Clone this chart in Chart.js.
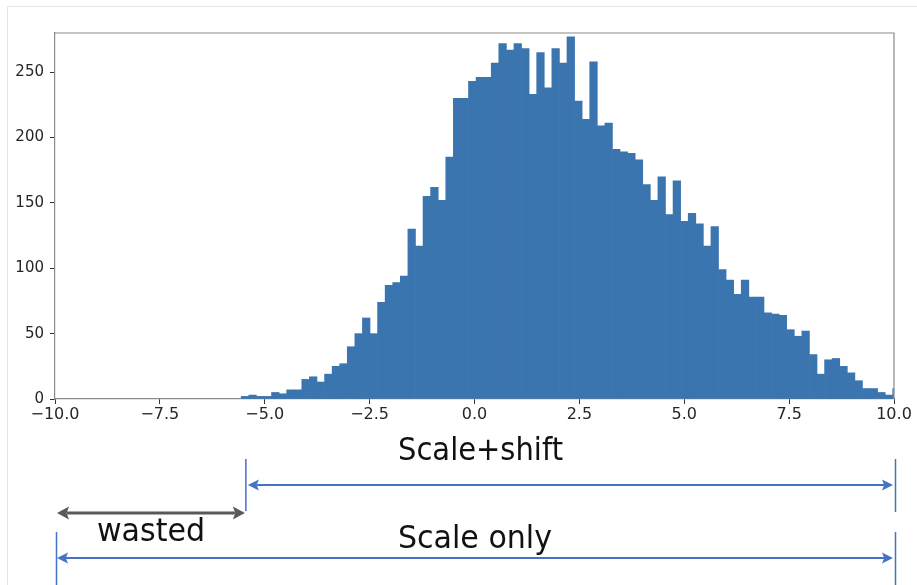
<!DOCTYPE html>
<html>
<head>
<meta charset="utf-8">
<script src="https://cdn.jsdelivr.net/npm/chart.js@4.4.1/dist/chart.umd.min.js"></script>
<style>
  html, body { margin: 0; padding: 0; background: #ffffff; }
  #wrap { width: 917px; height: 585px; position: relative; }
</style>
</head>
<body>
<div id="wrap"><canvas id="c" width="917" height="585"></canvas></div>
<script>
// ---- data ----
const binStart = -5.561;     // left edge of first bin
const binWidth = 0.1806;     // width of each bin
const counts = [
  2, 3, 2, 2, 5, 4, 7, 7, 15, 17,
  13, 19, 25, 27, 40, 50, 62, 50, 74, 87,
  89, 94, 130, 117, 155, 162, 152, 185, 230, 230,
  243, 246, 246, 257, 272, 267, 272, 268, 233, 265,
  238, 268, 257, 277, 228, 214, 258, 209, 211, 191,
  189, 188, 183, 164, 152, 170, 141, 167, 136, 142,
  134, 117, 132, 99, 91, 80, 91, 78, 78, 66,
  65, 64, 53, 48, 52, 34, 19, 30, 31, 25,
  20, 14, 8, 8, 5, 3, 8
];
const xTickValues = [-10, -7.5, -5, -2.5, 0, 2.5, 5, 7.5, 10];
const xTickLabels = ['\u221210.0', '\u22127.5', '\u22125.0', '\u22122.5', '0.0', '2.5', '5.0', '7.5', '10.0'];
const yTickValues = [0, 50, 100, 150, 200, 250];
const yTickLabels = ['0', '50', '100', '150', '200', '250'];
// annotation spans (in x-axis units)
const wastedSpan = [-10, -5.45];
const shiftSpan = [-5.45, 10];
const scaleOnlySpan = [-10, 10];
const annotationTexts = { shift: 'Scale+shift', wasted: 'wasted', only: 'Scale only' };

const points = counts.map((c, i) => ({ x: binStart + binWidth * (i + 0.5), y: c }));

function drawArrow(ctx, x1, x2, y, color, lw, hl, hw) {
  ctx.save();
  ctx.strokeStyle = color; ctx.fillStyle = color; ctx.lineWidth = lw;
  ctx.beginPath(); ctx.moveTo(x1 + hl - 2, y); ctx.lineTo(x2 - hl + 2, y); ctx.stroke();
  ctx.beginPath(); ctx.moveTo(x1, y); ctx.lineTo(x1 + hl, y - hw); ctx.lineTo(x1 + hl * 0.8, y); ctx.lineTo(x1 + hl, y + hw); ctx.closePath(); ctx.fill();
  ctx.beginPath(); ctx.moveTo(x2, y); ctx.lineTo(x2 - hl, y - hw); ctx.lineTo(x2 - hl * 0.8, y); ctx.lineTo(x2 - hl, y + hw); ctx.closePath(); ctx.fill();
  ctx.restore();
}
function vline(ctx, x, y1, y2, color, lw) {
  ctx.save(); ctx.strokeStyle = color; ctx.lineWidth = lw;
  ctx.beginPath(); ctx.moveTo(x, y1); ctx.lineTo(x, y2); ctx.stroke(); ctx.restore();
}
function fitText(ctx, txt, left, right, baseline, size, color) {
  ctx.save();
  ctx.font = size + 'px "DejaVu Sans"';
  ctx.fillStyle = color; ctx.textBaseline = 'alphabetic'; ctx.textAlign = 'left';
  const w = ctx.measureText(txt).width;
  ctx.translate(left, baseline);
  ctx.scale((right - left) / w, 1);
  ctx.fillText(txt, 0, 0);
  ctx.restore();
}

const decor = {
  id: 'decor',
  beforeDraw(chart) {
    const ctx = chart.ctx;
    ctx.save();
    ctx.fillStyle = '#ffffff'; ctx.fillRect(0, 0, chart.width, chart.height);
    ctx.strokeStyle = '#e4e4e4'; ctx.lineWidth = 1;
    ctx.beginPath(); ctx.moveTo(7.5, 585); ctx.lineTo(7.5, 6.5); ctx.lineTo(917, 6.5); ctx.stroke();
    ctx.restore();
  },
  afterDraw(chart) {
    const ctx = chart.ctx, a = chart.chartArea, xs = chart.scales.x;
    // top and right spines
    ctx.save(); ctx.strokeStyle = '#8a8a8a'; ctx.lineWidth = 1.2;
    ctx.beginPath(); ctx.moveTo(a.left, a.top); ctx.lineTo(a.right, a.top); ctx.lineTo(a.right, a.bottom); ctx.stroke();
    ctx.restore();

    const blue = '#4472c4', gray = '#595959';
    const pS0 = xs.getPixelForValue(shiftSpan[0]), pS1 = xs.getPixelForValue(shiftSpan[1]);
    const pW0 = xs.getPixelForValue(wastedSpan[0]), pW1 = xs.getPixelForValue(wastedSpan[1]);
    const pO0 = xs.getPixelForValue(scaleOnlySpan[0]), pO1 = xs.getPixelForValue(scaleOnlySpan[1]);

    // Scale+shift
    vline(ctx, pS0, 459, 511, blue, 1.5);
    vline(ctx, pS1 + 1.5, 459, 512, blue, 1.5);
    drawArrow(ctx, pS0 + 2, pS1 - 1, 485, blue, 2, 11, 5.5);
    fitText(ctx, annotationTexts.shift, 398, 563, 460, 32, '#111111');

    // wasted
    drawArrow(ctx, pW0 + 2, pW1 - 1, 513, gray, 3, 12, 6.5);
    fitText(ctx, annotationTexts.wasted, 97, 205, 541, 32, '#111111');

    // Scale only
    vline(ctx, pO0 + 1.5, 532, 585, blue, 1.5);
    vline(ctx, pO1 + 1.5, 532, 585, blue, 1.5);
    drawArrow(ctx, pO0 + 2, pO1 - 1, 558, blue, 2, 11, 5.5);
    fitText(ctx, annotationTexts.only, 398, 552, 548, 32, '#111111');
  }
};

new Chart(document.getElementById('c'), {
  type: 'bar',
  data: {
    datasets: [{
      data: points,
      backgroundColor: '#3b75af',
      borderWidth: 0,
      barPercentage: 1.0,
      categoryPercentage: 1.0
    }]
  },
  options: {
    responsive: false,
    animation: false,
    events: [],
    layout: { padding: { top: 33, right: 23, left: 0, bottom: 0 } },
    plugins: { legend: { display: false }, tooltip: { enabled: false } },
    scales: {
      x: {
        type: 'linear',
        offset: false,
        min: -10, max: 10,
        afterFit(s) { s.height = 186; },
        afterBuildTicks(s) { s.ticks = xTickValues.map(v => ({ value: v })); },
        ticks: {
          callback(v) { const i = xTickValues.indexOf(v); return i >= 0 ? xTickLabels[i] : ''; },
          font: { family: 'DejaVu Sans', size: 16 },
          color: '#262626',
          padding: 1,
          maxRotation: 0,
          autoSkip: false
        },
        grid: { drawOnChartArea: false, offset: false, tickLength: 5, color: '#333333' },
        border: { display: true, color: '#8a8a8a', width: 1.2 }
      },
      y: {
        min: 0, max: 280,
        afterFit(s) { s.width = 55; },
        afterBuildTicks(s) { s.ticks = yTickValues.map(v => ({ value: v })); },
        ticks: {
          callback(v) { const i = yTickValues.indexOf(v); return i >= 0 ? yTickLabels[i] : ''; },
          font: { family: 'DejaVu Sans', size: 15 },
          color: '#262626',
          padding: 6
        },
        grid: { drawOnChartArea: false, tickLength: 5, color: '#333333' },
        border: { display: true, color: '#8a8a8a', width: 1.2 }
      }
    }
  },
  plugins: [decor]
});
</script>
</body>
</html>
